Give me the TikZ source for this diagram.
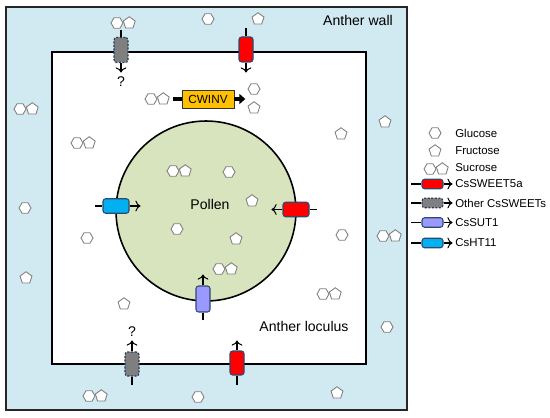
\documentclass[tikz,border=0pt]{standalone}
\usepackage{fontspec}
\setmainfont{Liberation Sans}
\usetikzlibrary{positioning,shapes.geometric,arrows.meta}
\definecolor{wallblue}{RGB}{209,233,240}
\definecolor{pollengreen}{RGB}{215,228,189}
\definecolor{cwinvorange}{RGB}{255,192,0}
\definecolor{sweetred}{RGB}{255,0,0}
\definecolor{othergray}{RGB}{127,127,127}
\definecolor{sutpurple}{RGB}{153,153,255}
\definecolor{htblue}{RGB}{0,176,240}
\definecolor{edgenavy}{RGB}{47,72,110}
\tikzset{
	glc/.style={regular polygon,regular polygon sides=6,draw=gray,fill=white,line width=0.5pt,inner sep=0pt,minimum size=0.24cm},
	frc/.style={regular polygon,regular polygon sides=5,draw=gray,fill=white,line width=0.5pt,inner sep=0pt,minimum size=0.25cm},
	vtr/.style={draw=edgenavy,line width=0.6pt,rounded corners=1.5pt,minimum width=0.28cm,minimum height=0.5cm,inner sep=0pt},
	htr/.style={vtr,minimum width=0.52cm,minimum height=0.29cm},
	ltr/.style={vtr,minimum width=0.42cm,minimum height=0.19cm},
	othertr/.style={fill=othergray,draw=edgenavy!80!black,dash pattern=on 1.2pt off 0.8pt},
	lab/.style={font=\fontsize{8}{10}\selectfont,inner sep=0pt},
	leg/.style={font=\fontsize{6.5}{8}\selectfont,inner sep=0pt,anchor=west},
	link/.style={line width=0.6pt},
}
\begin{document}
\begin{tikzpicture}[x=0.02cm,y=-0.02cm]
		\useasboundingbox (0,0) rectangle (550,418);
		% anther wall, loculus and pollen
		\filldraw[fill=wallblue,draw=black!85,line width=0.9pt] (6,7) rectangle (407,410);
		\filldraw[fill=white,draw=black,line width=1.1pt] (52,52) rectangle (366,364);
		\node[circle,draw=black,fill=pollengreen,line width=0.9pt,minimum size=3.6cm,inner sep=0pt] (pollen) at (206,211) {};
		
		\node[lab] (wall) at (358,20) {Anther wall};
		\node[lab] (loculus) at (304,326) {Anther loculus};
		\node[lab] (pollentxt) at (210,204) {Pollen};
		
		% CWINV
		\node[draw=black!80,fill=cwinvorange,minimum width=1.04cm,minimum height=0.36cm,inner sep=0pt,font=\fontsize{6.7}{8}\selectfont] (cwinv) at (208,99) {CWINV};
		\coordinate[left=0.18cm of cwinv.west] (cwa);
		\coordinate[right=0.22cm of cwinv.east] (cwb);
		\draw[line width=2.2pt] (cwa)--(cwinv.west);
		\draw[line width=2.2pt,-{Triangle[length=0.12cm,width=0.2cm]}] (cwinv.east)--(cwb);
		
		% transporters in the wall
		\node[vtr,othertr] (osw1) at (121,50) {};
		\coordinate[above=0.14cm of osw1.north] (osw1a);
		\coordinate[below=0.19cm of osw1.south] (osw1b);
		\draw[link] (osw1a)--(osw1.north);
		\draw[link,->] (osw1.south)--(osw1b);
		\node[lab,below=0.08cm of osw1b] (q1) {?};
		
		\node[vtr,fill=sweetred] (sw1) at (246,49.5) {};
		\coordinate[above=0.16cm of sw1.north] (sw1a);
		\coordinate[below=0.2cm of sw1.south] (sw1b);
		\draw[link] (sw1a)--(sw1.north);
		\draw[link,->] (sw1.south)--(sw1b);
		
		\node[vtr,othertr,minimum height=0.48cm] (osw2) at (132,364) {};
		\coordinate[below=0.16cm of osw2.south] (osw2a);
		\coordinate[above=0.22cm of osw2.north] (osw2b);
		\draw[link] (osw2a)--(osw2.south);
		\draw[link,->] (osw2.north)--(osw2b);
		\node[lab,above=0.08cm of osw2b] (q2) {?};
		
		\node[vtr,fill=sweetred,minimum height=0.48cm] (sw2) at (237,363) {};
		\coordinate[below=0.18cm of sw2.south] (sw2a);
		\coordinate[above=0.2cm of sw2.north] (sw2b);
		\draw[link] (sw2a)--(sw2.south);
		\draw[link,->] (sw2.north)--(sw2b);
		
		% transporters on the pollen
		\node[htr,fill=htblue] (ht) at (116,206) {};
		\coordinate[left=0.14cm of ht.west] (hta);
		\coordinate[right=0.22cm of ht.east] (htb);
		\draw[link] (hta)--(ht.west);
		\draw[link,->] (ht.east)--(htb);
		
		\node[htr,fill=sweetred] (sw3) at (296,209.5) {};
		\coordinate[right=0.14cm of sw3.east] (sw3a);
		\coordinate[left=0.22cm of sw3.west] (sw3b);
		\draw[link] (sw3a)--(sw3.east);
		\draw[link,->] (sw3.west)--(sw3b);
		
		\node[vtr,fill=sutpurple,minimum height=0.52cm] (sut) at (203,299) {};
		\coordinate[below=0.14cm of sut.south] (suta);
		\coordinate[above=0.22cm of sut.north] (sutb);
		\draw[link] (suta)--(sut.south);
		\draw[link,->] (sut.north)--(sutb);
		
		% glucose
		\node[glc] (g1) at (208,19) {};
		\node[glc] (g2) at (254,89) {};
		\node[glc] (g3) at (25,208) {};
		\node[glc] (g4) at (87,238) {};
		\node[glc] (g5) at (229,172) {};
		\node[glc] (g6) at (177,229) {};
		\node[glc] (g7) at (342,235) {};
		\node[glc] (g8) at (387,327) {};
		\node[glc] (g9) at (198,397) {};
		
		% fructose
		\node[frc] (f1) at (258,19) {};
		\node[frc] (f2) at (254,108) {};
		\node[frc] (f3) at (385,122) {};
		\node[frc] (f4) at (341,134) {};
		\node[frc] (f5) at (26,278) {};
		\node[frc] (f6) at (124,304) {};
		\node[frc] (f7) at (252,201) {};
		\node[frc] (f8) at (236,239) {};
		\node[frc] (f9) at (337,393) {};
		
		% sucrose
		\node[glc] (s1g) at (117,23) {};
		\node[frc,right=0pt of s1g] (s1f) {};
		\node[glc] (s2g) at (151,99) {};
		\node[frc,right=0pt of s2g] (s2f) {};
		\node[glc] (s3g) at (20,109) {};
		\node[frc,right=0pt of s3g] (s3f) {};
		\node[glc] (s4g) at (77,143) {};
		\node[frc,right=0pt of s4g] (s4f) {};
		\node[glc] (s5g) at (173,171) {};
		\node[frc,right=0pt of s5g] (s5f) {};
		\node[glc] (s6g) at (219,269) {};
		\node[frc,right=0pt of s6g] (s6f) {};
		\node[glc] (s7g) at (383,236) {};
		\node[frc,right=0pt of s7g] (s7f) {};
		\node[glc] (s8g) at (323,294) {};
		\node[frc,right=0pt of s8g] (s8f) {};
		\node[glc] (s9g) at (89,396) {};
		\node[frc,right=0pt of s9g] (s9f) {};
		
		% legend
		\node[glc] (lglc) at (435,133) {};
		\node[leg] (tglc) at (455,133) {Glucose};
		\node[frc] (lfrc) at (435,151) {};
		\node[leg] (tfrc) at (455,151) {Fructose};
		\node[glc] (lsucg) at (430,169) {};
		\node[frc,right=0pt of lsucg] (lsucf) {};
		\node[leg] (tsuc) at (455,168) {Sucrose};
		
		\node[ltr,fill=sweetred] (lsw) at (432.5,184) {};
		\coordinate[left=0.2cm of lsw.west] (lswa);
		\coordinate[right=0.18cm of lsw.east] (lswb);
		\draw[link] (lswa)--(lsw.west);
		\draw[link,->] (lsw.east)--(lswb);
		\node[leg] (tsw) at (455,184) {CsSWEET5a};
		
		\node[ltr,othertr] (losw) at (432.5,203) {};
		\coordinate[left=0.2cm of losw.west] (loswa);
		\coordinate[right=0.18cm of losw.east] (loswb);
		\draw[link] (loswa)--(losw.west);
		\draw[link,->] (losw.east)--(loswb);
		\node[leg] (tosw) at (455,203) {Other CsSWEETs};
		
		\node[ltr,fill=sutpurple] (lsut) at (432.5,222.5) {};
		\coordinate[left=0.2cm of lsut.west] (lsuta);
		\coordinate[right=0.18cm of lsut.east] (lsutb);
		\draw[link] (lsuta)--(lsut.west);
		\draw[link,->] (lsut.east)--(lsutb);
		\node[leg] (tsut) at (455,222.5) {CsSUT1};
		
		\node[ltr,fill=htblue] (lht) at (432.5,243) {};
		\coordinate[left=0.2cm of lht.west] (lhta);
		\coordinate[right=0.18cm of lht.east] (lhtb);
		\draw[link] (lhta)--(lht.west);
		\draw[link,->] (lht.east)--(lhtb);
		\node[leg] (tht) at (455,243) {CsHT11};
	\end{tikzpicture}
\end{document}
